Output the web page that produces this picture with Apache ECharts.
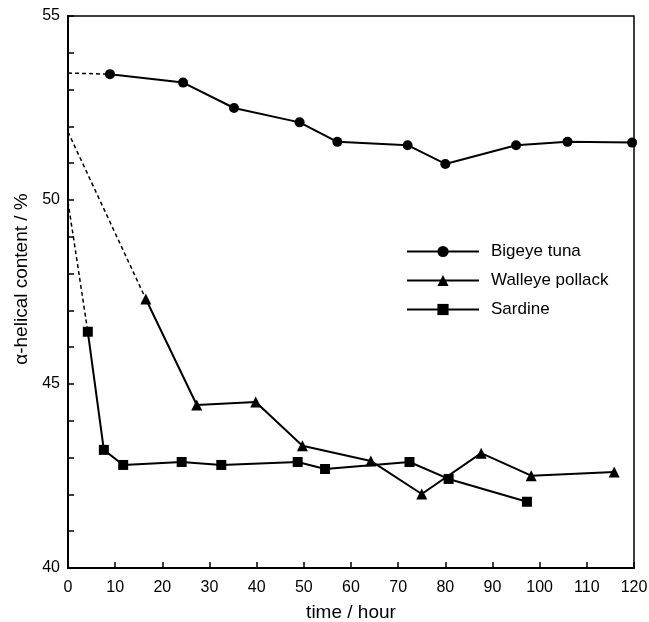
<!DOCTYPE html>
<html>
<head>
<meta charset="utf-8">
<script src="https://cdn.jsdelivr.net/npm/echarts@6/dist/echarts.min.js"></script>
<style>
  html, body { margin: 0; padding: 0; background: #fff; }
  #main { width: 649px; height: 622px; }
</style>
</head>
<body>
<div id="main"></div>
<script>
// 数据
var tunaTime = [8.9, 24.4, 35.2, 49.1, 57.1, 72.0, 80.0, 95.0, 105.9, 119.6];
var tunaHelix = [53.42, 53.19, 52.5, 52.11, 51.58, 51.49, 50.98, 51.49, 51.58, 51.56];
var tunaStart = 53.45;

var pollackTime = [16.5, 27.3, 39.8, 49.7, 64.2, 75.0, 87.6, 98.2, 115.8];
var pollackHelix = [47.31, 44.43, 44.51, 43.32, 42.91, 42.01, 43.12, 42.51, 42.61];
var pollackStart = 51.85;

var sardineTime = [4.2, 7.6, 11.7, 24.1, 32.5, 48.7, 54.5, 72.4, 80.7, 97.3];
var sardineHelix = [46.42, 43.21, 42.8, 42.88, 42.8, 42.88, 42.69, 42.88, 42.42, 41.8];
var sardineStart = 49.95;

var xTicks = { min: 0, max: 120, step: 10 };
var yTicks = { min: 40, max: 55, step: 1, labelStep: 5 };

function pairs(xs, ys) {
  return xs.map(function (x, i) { return [x, ys[i]]; });
}

// 实线+符号
function solidSeries(name, symbol, xs, ys) {
  return {
    name: name,
    type: 'line',
    data: pairs(xs, ys),
    symbol: symbol,
    symbolSize: symbol === 'triangle' ? 11 : 10,
    clip: false,
    lineStyle: { color: '#000', width: 2 },
    itemStyle: { color: '#000' }
  };
}

// 从 t=0 起的虚线
function dashedSeries(start, xs, ys) {
  return {
    type: 'line',
    data: [[0, start], [xs[0], ys[0]]],
    symbol: 'none',
    silent: true,
    lineStyle: { color: '#000', width: 1.5, type: [4, 3] }
  };
}

var font = 'Liberation Sans, Arial, Helvetica, sans-serif';
var myChart = echarts.init(document.getElementById('main'));

var option = {
  animation: false,
  backgroundColor: '#fff',
  textStyle: { fontFamily: font, color: '#000' },
  grid: {
    left: 68, right: 15, top: 16, bottom: 54,
    outerBoundsMode: 'none',
    containLabel: false,
    show: true, borderColor: '#000', borderWidth: 1.5
  },
  legend: {
    orient: 'vertical',
    left: 401,
    top: 238,
    itemWidth: 72,
    itemHeight: 14,
    itemGap: 12,
    textStyle: { fontSize: 17, color: '#000', fontFamily: font, lineHeight: 14, padding: [0, 0, 0, 7] },
    data: ['Bigeye tuna', 'Walleye pollack', 'Sardine']
  },
  xAxis: {
    type: 'value',
    min: xTicks.min, max: xTicks.max, interval: xTicks.step,
    name: 'time / hour',
    nameLocation: 'middle',
    nameGap: 35,
    nameTextStyle: { fontSize: 19, color: '#000', fontFamily: font },
    axisLine: { lineStyle: { color: '#000', width: 2 } },
    axisTick: { inside: true, length: 6, lineStyle: { color: '#000', width: 1.5 } },
    axisLabel: { fontSize: 16, color: '#000', margin: 12, fontFamily: font },
    splitLine: { show: false }
  },
  yAxis: {
    type: 'value',
    min: yTicks.min, max: yTicks.max, interval: yTicks.step,
    name: 'α-helical content / %',
    nameLocation: 'middle',
    nameGap: 29,
    nameTextStyle: { fontSize: 19, color: '#000', fontFamily: font, padding: [0, 0, 0, 26] },
    axisLine: { lineStyle: { color: '#000', width: 2 } },
    axisTick: { inside: true, length: 6, lineStyle: { color: '#000', width: 1.5 } },
    axisLabel: {
      fontSize: 16, color: '#000', margin: 8, fontFamily: font,
      formatter: function (v) { return v % yTicks.labelStep === 0 ? String(v) : ''; }
    },
    splitLine: { show: false }
  },
  series: [
    dashedSeries(tunaStart, tunaTime, tunaHelix),
    dashedSeries(pollackStart, pollackTime, pollackHelix),
    dashedSeries(sardineStart, sardineTime, sardineHelix),
    solidSeries('Bigeye tuna', 'circle', tunaTime, tunaHelix),
    solidSeries('Walleye pollack', 'triangle', pollackTime, pollackHelix),
    solidSeries('Sardine', 'rect', sardineTime, sardineHelix)
  ]
};

myChart.setOption(option);
</script>
</body>
</html>
